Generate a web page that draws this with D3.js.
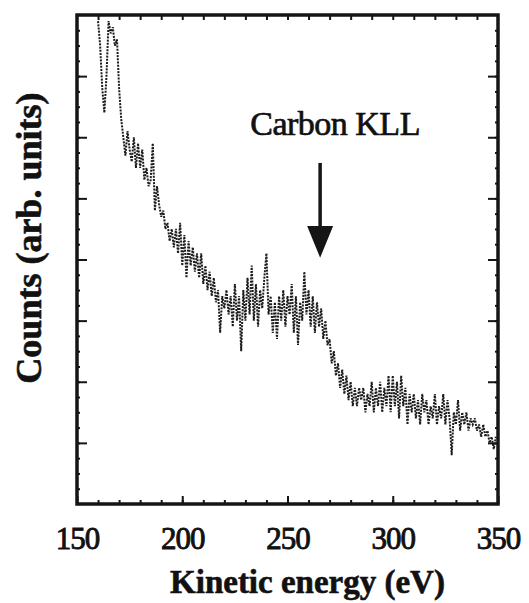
<!DOCTYPE html>
<html>
<head>
<meta charset="utf-8">
<script src="https://cdn.jsdelivr.net/npm/d3@7"></script>
<style>
  body { margin: 0; background: white; }
  text { font-family: "Liberation Serif", "DejaVu Serif", serif; fill: #111; }
</style>
</head>
<body>
<div class="chartDiv"></div>
<script>

// -----------------------Data--------------------------------//

// energies, 1 eV steps from 160 to 349
let energyStart = 160

// counts (arb. units), one per eV
let counts = [
  7.9, 7.5, 6.8, 6.4, 7.0, 7.9, 7.7, 7.8, 7.5, 7.6,   // 160-169
  6.8, 6.3, 6.0, 5.7, 6.1, 5.8, 5.6, 6.0, 5.5, 5.9,   // 170-179
  5.5, 5.8, 5.3, 5.5, 5.2, 5.3, 5.9, 4.8, 5.2, 4.9,   // 180-189
  4.7, 4.8, 4.5, 4.6, 4.3, 4.5, 4.2, 4.5, 4.1, 4.6,   // 190-199
  3.9, 4.4, 3.7, 4.3, 3.9, 4.2, 3.8, 4.1, 3.7, 4.1,   // 200-209
  3.6, 3.9, 3.5, 3.8, 3.4, 3.7, 3.3, 3.5, 2.8, 3.4,   // 210-219
  3.2, 3.5, 3.1, 3.4, 2.9, 3.6, 3.0, 3.4, 2.5, 3.5,   // 220-229
  3.0, 3.7, 3.1, 3.9, 3.0, 3.6, 2.9, 3.5, 3.2, 3.7,   // 230-239
  4.1, 3.1, 3.4, 2.8, 3.3, 2.7, 3.4, 3.0, 3.5, 2.9,   // 240-249
  3.4, 3.1, 3.6, 2.8, 3.4, 2.6, 3.3, 3.0, 3.8, 3.1,   // 250-259
  3.5, 2.9, 3.4, 2.8, 3.3, 2.9, 3.2, 2.7, 3.0, 2.6,   // 260-269
  2.7, 2.3, 2.5, 2.1, 2.3, 1.9, 2.2, 1.8, 2.1, 1.7,   // 270-279
  2.0, 1.6, 1.9, 1.6, 1.9, 1.7, 1.9, 1.5, 1.8, 1.6,   // 280-289
  2.0, 1.5, 1.9, 1.6, 2.0, 1.5, 1.9, 1.6, 2.1, 1.5,   // 290-299
  2.1, 1.6, 2.0, 1.4, 2.1, 1.6, 1.9, 1.3, 1.8, 1.5,   // 300-309
  1.8, 1.4, 1.7, 1.3, 1.8, 1.5, 1.7, 1.3, 1.6, 1.4,   // 310-319
  1.8, 1.3, 1.6, 1.4, 1.8, 1.3, 1.7, 1.4, 0.8, 1.5,   // 320-329
  1.3, 1.7, 1.2, 1.5, 1.3, 1.5, 1.2, 1.4, 1.3, 1.4,   // 330-339
  1.2, 1.3, 1.1, 1.3, 1.1, 1.2, 1.0, 1.1, 0.9, 1.1    // 340-349
]

// axis ticks
let xTickLabels = [150, 200, 250, 300, 350]
let yMajorTicks = [1, 2, 3, 4, 5, 6, 7]

// annotation
let peakLabel = "Carbon KLL"
let peakEnergy = 265.5

// -----------------------Setup--------------------------------//

let margin = {top: 15, right: 31, bottom: 99, left: 77},
    width = 529 - margin.left - margin.right,
    height = 603 - margin.top - margin.bottom;

let x = d3.scaleLinear().domain([150, 350]).range([0, width]);
let y = d3.scaleLinear().domain([0, 8]).range([height, 0]);

let spectrum = counts.map((c, i) => ({e: energyStart + i, c: c}))

let svg = d3.select(".chartDiv").append("svg")
    .attr("width", 529)
    .attr("height", 603)
    .style("background-color", "white")
.append("g")
    .attr("transform", "translate(" + margin.left + "," + margin.top + ")");

// spectrum, dotted like the scanned original
let line = d3.line()
    .x(d => x(d.e))
    .y(d => y(d.c))

svg.append("path")
    .datum(spectrum)
    .attr("fill", "none")
    .attr("stroke", "#1c1c1c")
    .attr("stroke-width", 2)
    .attr("stroke-dasharray", "2,1.2")
    .attr("d", line)

// -----------------------Axes--------------------------------//

let xMinor = d3.range(160, 350, 10)
let yMinor = d3.range(0.25, 8, 0.25)

// bottom and top
svg.append("g")
    .attr("transform", "translate(0," + height + ")")
    .call(d3.axisBottom(x).tickValues(xMinor).tickSize(-4).tickFormat(""))
svg.append("g")
    .attr("transform", "translate(0," + height + ")")
    .call(d3.axisBottom(x).tickValues(xTickLabels).tickSize(-8).tickPadding(16).tickFormat(d3.format("d")))
    .call(g => g.selectAll("text")
        .style("font-size", "31px")
        .style("font-family", "'Liberation Serif', serif")
        .style("stroke", "#111")
        .style("stroke-width", "0.9px")
        .style("letter-spacing", "-1px")
        .attr("dy", "0.95em"))
svg.append("g")
    .call(d3.axisTop(x).tickValues(xMinor).tickSize(-5).tickFormat(""))

// left and right
svg.append("g")
    .call(d3.axisLeft(y).tickValues(yMinor).tickSize(-3).tickFormat(""))
svg.append("g")
    .call(d3.axisLeft(y).tickValues(yMajorTicks).tickSize(-10).tickFormat(""))
svg.append("g")
    .attr("transform", "translate(" + width + ",0)")
    .call(d3.axisRight(y).tickValues(yMinor).tickSize(-3).tickFormat(""))
svg.append("g")
    .attr("transform", "translate(" + width + ",0)")
    .call(d3.axisRight(y).tickValues(yMajorTicks).tickSize(-10).tickFormat(""))

svg.selectAll(".domain").remove()
svg.selectAll(".tick line")
    .attr("stroke", "#151515")
    .attr("stroke-width", 2)

// frame
svg.append("rect")
    .attr("x", 0)
    .attr("y", 0)
    .attr("width", width)
    .attr("height", height)
    .attr("fill", "none")
    .attr("stroke", "#151515")
    .attr("stroke-width", 3.5)

// axis titles
svg.append("text")
    .attr("x", width / 2 + 20)
    .attr("y", height + 89)
    .attr("text-anchor", "middle")
    .style("font-size", "33px")
    .style("font-weight", "bold")
    .style("stroke", "#111")
    .style("stroke-width", "0.6px")
    .text("Kinetic energy (eV)")

svg.append("text")
    .attr("transform", "translate(" + (-36) + "," + (y(4.35)) + ") rotate(-90)")
    .attr("text-anchor", "middle")
    .style("font-size", "36px")
    .style("font-weight", "bold")
    .style("stroke", "#111")
    .style("stroke-width", "0.6px")
    .text("Counts (arb. units)")

// -----------------------Annotation--------------------------------//

svg.append("text")
    .attr("x", x(272.6))
    .attr("y", y(6.03))
    .attr("text-anchor", "middle")
    .style("font-size", "34px")
    .style("stroke", "#111")
    .style("stroke-width", "0.7px")
    .style("letter-spacing", "-0.5px")
    .text(peakLabel)

svg.append("line")
    .attr("x1", x(peakEnergy))
    .attr("x2", x(peakEnergy))
    .attr("y1", y(5.58))
    .attr("y2", y(4.4))
    .attr("stroke", "#151515")
    .attr("stroke-width", 3.5)

svg.append("path")
    .attr("d", "M" + (x(peakEnergy) - 13) + "," + y(4.55) +
               "L" + (x(peakEnergy) + 13) + "," + y(4.55) +
               "L" + x(peakEnergy) + "," + y(4.03) + "Z")
    .attr("fill", "#151515")

</script>
</body>
</html>
